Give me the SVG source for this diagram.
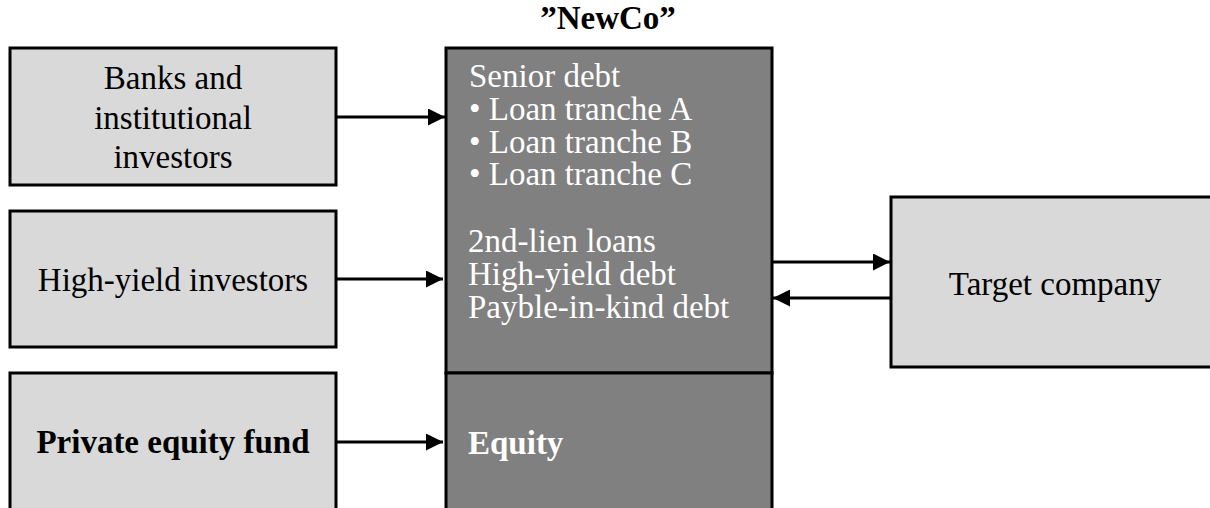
<svg xmlns="http://www.w3.org/2000/svg" width="1210" height="508" viewBox="0 0 1210 508">
<style>
.box{fill:#d9d9d9;stroke:#000;stroke-width:3}
.dark{fill:#808080;stroke:#000;stroke-width:3}
.t{font-family:"Liberation Serif","Times New Roman",serif;font-size:33px;fill:#000}
.w{fill:#fff}
.b{font-weight:bold}
.c{text-anchor:middle}
.ln{stroke:#000;stroke-width:3;fill:none;marker-end:url(#ah)}
</style>
<defs>
<marker id="ah" markerUnits="userSpaceOnUse" markerWidth="17" markerHeight="17" viewBox="0 0 17 17" refX="17" refY="8.5" orient="auto">
<path d="M0,0 L17,8.5 L0,17 Z" fill="#000"/>
</marker>
</defs>
<g id="banks">
<rect class="box" x="10" y="48" width="326" height="137"/>
<text class="t c" x="173" y="89">Banks and</text>
<text class="t c" x="173" y="129">institutional</text>
<text class="t c" x="173" y="168">investors</text>
</g>
<g id="highyield">
<rect class="box" x="10" y="211" width="326" height="136"/>
<text class="t c" x="173" y="291">High-yield investors</text>
</g>
<g id="pe">
<rect class="box" x="10" y="373" width="326" height="150"/>
<text class="t c b" x="173" y="453">Private equity fund</text>
</g>
<g id="newco">
<text class="t c b" x="608" y="29">”NewCo”</text>
<rect class="dark" x="446" y="48" width="326" height="325"/>
<rect class="dark" x="446" y="373" width="326" height="150"/>
<text class="t w" x="469" y="87">Senior debt</text>
<text class="t w" x="469" y="120">• Loan tranche A</text>
<text class="t w" x="469" y="153">• Loan tranche B</text>
<text class="t w" x="469" y="185">• Loan tranche C</text>
<text class="t w" x="468" y="252">2nd-lien loans</text>
<text class="t w" x="468" y="285">High-yield debt</text>
<text class="t w" x="468" y="318">Payble-in-kind debt</text>
<text class="t w b" x="468" y="454">Equity</text>
</g>
<g id="target">
<rect class="box" x="891" y="197" width="330" height="170"/>
<text class="t c" x="1055" y="295">Target company</text>
</g>
<g id="connectors">
<line class="ln" x1="336" y1="117" x2="445" y2="117"/>
<line class="ln" x1="336" y1="279" x2="443" y2="279"/>
<line class="ln" x1="336" y1="442" x2="443" y2="442"/>
<line class="ln" x1="772" y1="262" x2="890" y2="262"/>
<line class="ln" x1="891" y1="298" x2="773" y2="298"/>
</g>
</svg>
